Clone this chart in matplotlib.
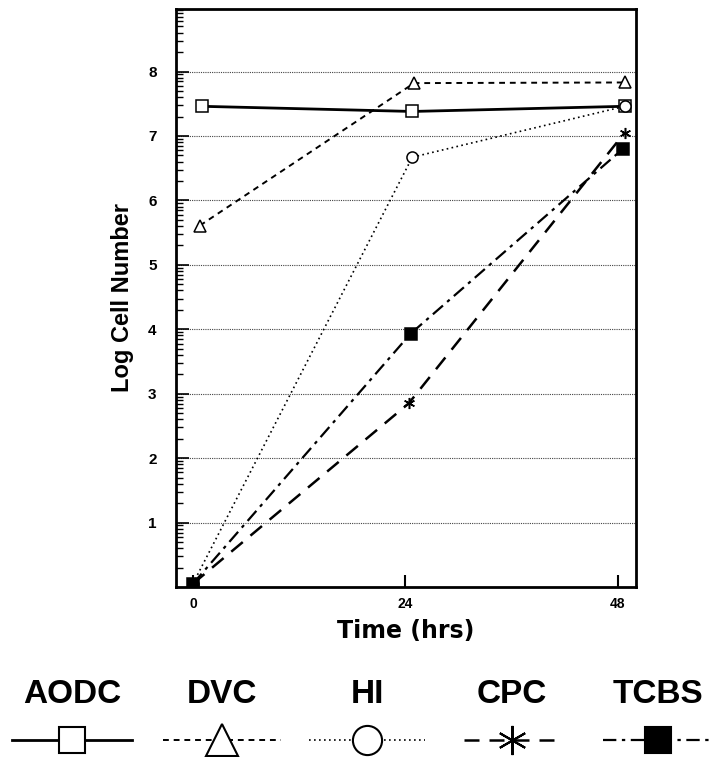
import matplotlib
matplotlib.use("Agg")
import matplotlib.pyplot as plt
import numpy as np

# readings from the scanned figure (log cell number vs time)
series = ["AODC", "DVC", "HI", "CPC", "TCBS"]
t_aodc = [1.0, 24.8, 48.8]
y_aodc = [7.46, 7.38, 7.46]
t_dvc = [0.8, 25.0, 48.8]
y_dvc = [5.61, 7.82, 7.83]
t_hi = [0.0, 24.8, 48.8]
y_hi = [0.05, 6.67, 7.46]
t_cpc = [0.0, 24.4, 48.8]
y_cpc = [0.05, 2.85, 7.05]
t_tcbs = [0.0, 24.6, 48.6]
y_tcbs = [0.05, 3.93, 6.80]

x_ticks = [0, 24, 48]
y_ticks = [1, 2, 3, 4, 5, 6, 7, 8]

# line style, marker, marker face, line width, legend marker size
styles = {
    "AODC": dict(ls="-", marker="s", mfc="white", lw=2.0, ks=19),
    "DVC": dict(ls=(0, (3, 2.5)), marker="^", mfc="white", lw=1.4, ks=23),
    "HI": dict(ls=(0, (1, 2)), marker="o", mfc="white", lw=1.2, ks=21),
    "CPC": dict(ls=(0, (6, 4)), marker=(6, 2, 0), mfc="black", lw=1.8, ks=21),
    "TCBS": dict(ls=(0, (6, 2.5, 1.5, 2.5)), marker="s", mfc="black", lw=1.6, ks=19),
}
data = {
    "AODC": (t_aodc, y_aodc),
    "DVC": (t_dvc, y_dvc),
    "HI": (t_hi, y_hi),
    "CPC": (t_cpc, y_cpc),
    "TCBS": (t_tcbs, y_tcbs),
}

plt.rcParams["font.family"] = ["Liberation Sans", "DejaVu Sans"]

fig = plt.figure(figsize=(7.1, 7.57), dpi=100)
ax = fig.add_axes([0.248, 0.2246, 0.648, 0.7635])

for name in series:
    st = styles[name]
    t, y = data[name]
    ax.plot(t, y, color="black", linestyle=st["ls"], lw=st["lw"],
            marker=st["marker"], markersize=8, markerfacecolor=st["mfc"],
            markeredgecolor="black", markeredgewidth=1.1, zorder=3)

ax.set_xlim(-1.9, 50.1)
ax.set_ylim(0, 8.97)
ax.set_xticks(x_ticks)
ax.set_yticks(y_ticks)
ax.set_xticklabels([str(v) for v in x_ticks], fontsize=10, fontweight="bold")
ax.set_yticklabels([str(v) for v in y_ticks], fontsize=11, fontweight="bold")

# log-style minor ticks inside each unit
minor = [n + np.log10(k) for n in range(9) for k in range(2, 10)]
ax.set_yticks([m for m in minor if m < 8.97], minor=True)
ax.tick_params(axis="y", which="major", direction="in", length=9, width=1.2, pad=14)
ax.tick_params(axis="y", which="minor", direction="in", length=5, width=1.0)
ax.tick_params(axis="x", which="major", direction="in", length=9, width=1.5, pad=7)
ax.tick_params(top=False, right=False)

ax.grid(axis="y", which="major", color="#444444", linestyle=(0, (1, 1)), lw=0.8)
for s in ax.spines.values():
    s.set_linewidth(2.0)

ax.set_xlabel("Time (hrs)", fontsize=17, family=["DejaVu Sans"], fontweight="bold", labelpad=6)
ax.set_ylabel("Log Cell Number", fontsize=17, fontweight="bold", labelpad=10)

# legend drawn underneath: label on top, line sample with marker below
lax = fig.add_axes([0, 0, 1, 0.13])
lax.set_xlim(0, 710)
lax.set_ylim(98, 0)
lax.axis("off")
centers = [72, 222, 367, 512, 658]
half = [60, 59, 58, 48, 55]
for name, cx, hw in zip(series, centers, half):
    st = styles[name]
    lax.text(cx, 44, name, ha="center", va="baseline", fontsize=24, fontweight="bold")
    lax.plot([cx - hw, cx + hw], [81, 81], color="black", linestyle=st["ls"], lw=st["lw"])
    lax.plot([cx], [81], color="black", marker=st["marker"], markersize=st["ks"],
             markerfacecolor=st["mfc"], markeredgecolor="black", markeredgewidth=1.5,
             clip_on=False)

fig.savefig("out.png", dpi=100)
